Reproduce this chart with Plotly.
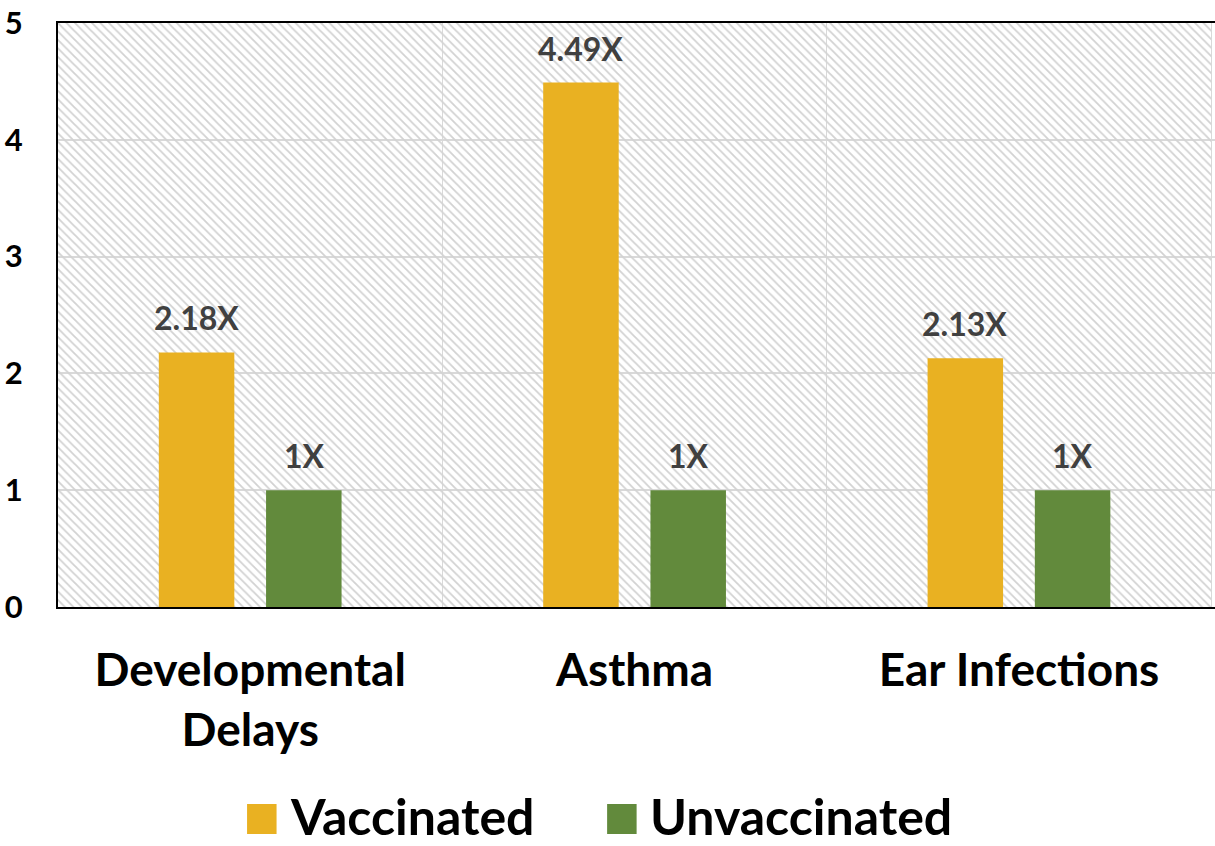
import plotly.graph_objects as go

categories = ["Developmental<br>Delays", "Asthma", "Ear Infections"]
vaccinated = [2.18, 4.49, 2.13]
unvaccinated = [1, 1, 1]
series_names = ["Vaccinated", "Unvaccinated"]
y_ticks = [0, 1, 2, 3, 4, 5]

Y_MAX = 5
C_VAX = "#E9B122"
C_UNVAX = "#628A3C"
FONT = "Lato"

fig = go.Figure()

# hatched plot background
fig.add_trace(go.Bar(
    x=categories, y=[Y_MAX] * len(categories), width=1,
    xaxis="x", yaxis="y",
    marker=dict(color="rgba(0,0,0,0)", line=dict(width=0),
                pattern=dict(shape="\\", fgcolor="#d2d2d2", bgcolor="rgba(0,0,0,0)",
                             size=6, solidity=0.3, fillmode="replace")),
    hoverinfo="skip", showlegend=False,
))

for name, vals, col in [(series_names[0], vaccinated, C_VAX),
                        (series_names[1], unvaccinated, C_UNVAX)]:
    fig.add_trace(go.Bar(
        x=categories, y=vals, name=name, xaxis="x2", yaxis="y",
        marker=dict(color=col, line=dict(width=0)),
        showlegend=False,
    ))

annotations = []
for vals, shift in [(vaccinated, -54), (unvaccinated, 54)]:
    for c, v in zip(categories, vals):
        annotations.append(dict(
            x=c, y=v, xref="x2", yref="y", text=f"{v:g}X", showarrow=False,
            xshift=shift, yshift=13, yanchor="bottom",
            font=dict(family=FONT, size=32, color="#404040", weight="bold"),
        ))

# legend (drawn manually to get the large swatches)
LEG_Y = -0.3579
legend_items = [(series_names[0], C_VAX, 0.1634, 0.1988),
                (series_names[1], C_UNVAX, 0.4746, 0.5100)]
shapes = []
for name, col, sx, tx in legend_items:
    shapes.append(dict(type="rect", xref="paper", yref="paper",
                       x0=sx, x1=sx + 0.0255, y0=-0.3887, y1=-0.3373,
                       fillcolor=col, line=dict(width=0)))
    annotations.append(dict(
        x=tx, y=LEG_Y, xref="paper", yref="paper", xanchor="left", yanchor="middle",
        text=name, showarrow=False,
        font=dict(family=FONT, size=50, color="black", weight="bold"),
    ))

fig.update_layout(
    width=1215, height=846,
    margin=dict(l=58, r=0, t=23, b=239, autoexpand=False),
    paper_bgcolor="white", plot_bgcolor="white",
    barmode="group", bargap=0.442, bargroupgap=0.296,
    showlegend=False,
    xaxis=dict(
        type="category", range=[-0.5, 2.51], tickson="boundaries", automargin=False,
        showgrid=True, gridcolor="#d9d9d9", gridwidth=1,
        showline=True, linecolor="black", linewidth=2, mirror=True,
        ticks="", ticklabelstandoff=22,
        tickfont=dict(family=FONT, size=46, color="black", weight="bold"),
    ),
    xaxis2=dict(
        type="category", overlaying="x", range=[-0.5, 2.51], visible=False,
        showgrid=False, automargin=False,
    ),
    yaxis=dict(
        range=[0, Y_MAX], tickvals=y_ticks, showgrid=True, gridcolor="#d9d9d9",
        gridwidth=1.5, showline=True, linecolor="black", linewidth=2, mirror=False,
        zeroline=False, ticks="", ticklabelstandoff=27, automargin=False,
        ticklabeloverflow="allow",
        tickfont=dict(family=FONT, size=31, color="black", weight="bold"),
    ),
    shapes=shapes,
    annotations=annotations,
)

fig.write_html("out.html", config={"displayModeBar": False},
               post_script="document.body.style.margin='0px';")
